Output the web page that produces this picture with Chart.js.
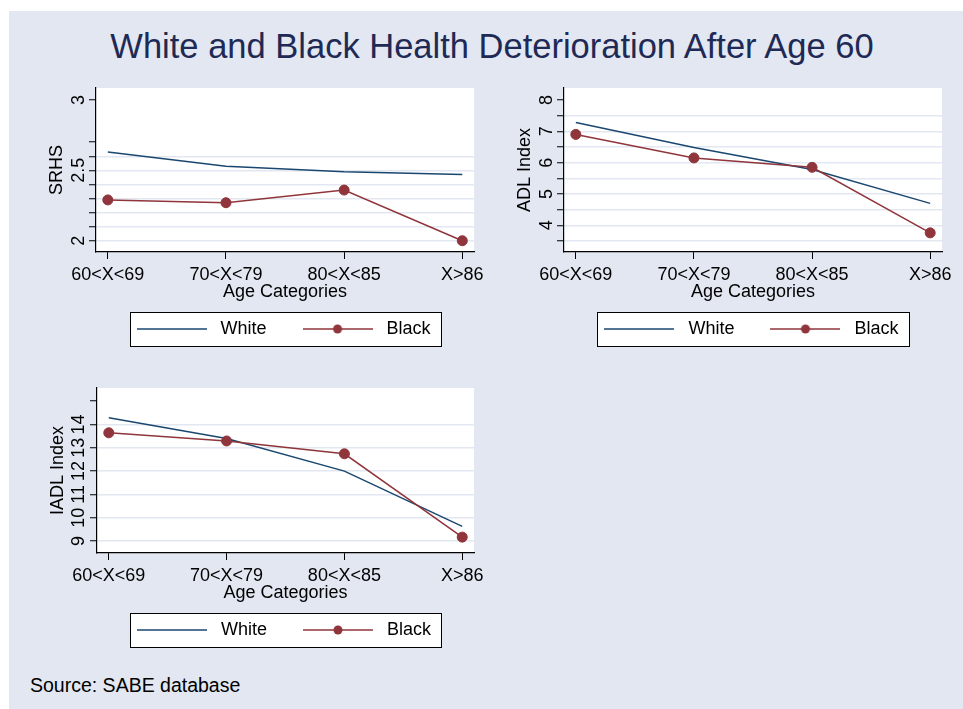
<!DOCTYPE html>
<html>
<head>
<meta charset="utf-8">
<title>White and Black Health Deterioration After Age 60</title>
<script src="https://cdn.jsdelivr.net/npm/chart.js@4.4.0/dist/chart.umd.min.js"></script>
<style>
body { margin: 0; background: #fff; width: 963px; height: 709px; position: relative; overflow: hidden; font-family: "Liberation Sans", Arial, sans-serif; }
#bg { position: absolute; left: 9px; top: 11px; width: 954px; height: 698px; background: #E2E7F1; }
#title { position: absolute; left: 9px; width: 966px; top: 29px; text-align: center; font-size: 34.5px; line-height: 1; color: #1E2A55; white-space: nowrap; }
#source { position: absolute; left: 30px; top: 676px; font-size: 19.5px; line-height: 1; color: #000; }
canvas { position: absolute; }
</style>
</head>
<body>
<div id="bg"></div>
<div id="title">White and Black Health Deterioration After Age 60</div>
<canvas id="g_srhs" width="480" height="280" style="left:9px;top:80px"></canvas>
<canvas id="g_adl" width="480" height="280" style="left:478px;top:80px"></canvas>
<canvas id="g_iadl" width="480" height="281" style="left:9px;top:380px"></canvas>
<div id="source">Source: SABE database</div>
<script>
// categories d'age (axe x)
const ageCategories = ['60<X<69', '70<X<79', '80<X<85', 'X>86'];

// valeurs
const srhsWhite = [2.63, 2.53, 2.49, 2.47];
const srhsBlack = [2.29, 2.27, 2.36, 2.00];
const adlWhite = [7.28, 6.48, 5.78, 4.70];
const adlBlack = [6.90, 6.15, 5.85, 3.76];
const iadlWhite = [14.29, 13.40, 12.00, 9.63];
const iadlBlack = [13.64, 13.29, 12.74, 9.17];

// graduations de l'axe y : toutes, celles avec un libelle, celles avec une ligne de grille
const srhsTicks = [2, 2.1, 2.2, 2.3, 2.4, 2.5, 2.6, 2.7, 3];
const srhsLabels = [2, 2.5, 3];
const srhsGrid = [2, 2.1, 2.2, 2.3, 2.4, 2.5, 2.6];
const adlTicks = [3.5, 4, 4.5, 5, 5.5, 6, 6.5, 7, 7.5, 8];
const adlLabels = [4, 5, 6, 7, 8];
const adlGrid = [3.5, 4, 4.5, 5, 5.5, 6, 6.5, 7, 7.5];
const iadlTicks = [9, 10, 11, 12, 13, 14, 15];
const iadlLabels = [9, 10, 11, 12, 13, 14];
const iadlGrid = [9, 10, 11, 12, 13, 14];

const navy = '#1A476F';
const maroon = '#90353B';
const bgColor = '#E2E7F1';

Chart.defaults.font.family = '"Liberation Sans", Arial, sans-serif';

//petits symboles pour la legende
function symbol(color, dot) {
    const c = document.createElement('canvas');
    c.width = 70;
    c.height = 12;
    const g = c.getContext('2d');
    g.strokeStyle = color;
    g.lineWidth = 1.5;
    g.beginPath();
    g.moveTo(0, 6);
    g.lineTo(70, 6);
    g.stroke();
    if (dot) {
        g.fillStyle = color;
        g.beginPath();
        g.arc(35, 6, 4.5, 0, Math.PI * 2);
        g.fill();
    }
    return c;
}
const legendSymbols = [symbol(navy, false), symbol(maroon, true)];

// fond blanc de la zone du graphique
const plotBackground = {
    id: 'plotBackground',
    beforeDraw(chart) {
        const a = chart.chartArea;
        const ctx = chart.ctx;
        ctx.save();
        ctx.fillStyle = '#fff';
        ctx.fillRect(a.left, a.top, a.right - a.left, a.bottom - a.top);
        ctx.restore();
    }
};

// cadre autour de la legende (+ petit decalage vers la gauche comme dans Stata)
const legendFrame = {
    id: 'legendFrame',
    afterLayout(chart) {
        chart.legend.left -= 4;
        chart.legend.right -= 4;
    },
    afterDraw(chart) {
        const boxes = chart.legend.legendHitBoxes;
        if (!boxes || !boxes.length) return;
        const first = boxes[0];
        const last = boxes[boxes.length - 1];
        const left = Math.round(first.left - 2) + 0.5;
        const right = Math.round(last.left + last.width + 10) + 0.5;
        const mid = first.top + 9;
        const top = Math.round(mid - 17) + 0.5;
        const bottom = Math.round(mid + 17) + 0.5;
        const ctx = chart.ctx;
        ctx.save();
        ctx.globalCompositeOperation = 'destination-over';
        ctx.fillStyle = '#fff';
        ctx.fillRect(left, top, right - left, bottom - top);
        ctx.restore();
        ctx.save();
        ctx.strokeStyle = '#000';
        ctx.lineWidth = 1;
        ctx.strokeRect(left, top, right - left, bottom - top);
        ctx.restore();
    }
};

function has(list, v) {
    return list.some(x => Math.abs(x - v) < 1e-9);
}

function panel(id, yTitle, white, black, yMin, yMax, ticks, labels, grid, tickPad, pad) {
    const context = document.getElementById(id).getContext('2d');
    let conData = {
        datasets: [{
            label: 'White',
            data: white.map((v, i) => ({ x: i, y: v })),
            borderColor: navy,
            backgroundColor: navy,
            borderWidth: 1.5,
            pointRadius: 0,
            fill: false,
            order: 1
        }, {
            label: 'Black',
            data: black.map((v, i) => ({ x: i, y: v })),
            borderColor: maroon,
            backgroundColor: maroon,
            borderWidth: 1.5,
            pointRadius: 5,
            pointBorderWidth: 1,
            pointBackgroundColor: maroon,
            pointBorderColor: maroon,
            fill: false,
            order: 0
        }]
    };
    let options = {
        animation: false,
        responsive: false,
        events: [],
        layout: { padding: pad },
        plugins: {
            tooltip: { enabled: false },
            legend: {
                position: 'bottom',
                fullSize: false,
                labels: {
                    usePointStyle: true,
                    pointStyleWidth: 80,
                    padding: 31,
                    color: '#000',
                    font: { size: 18 },
                    generateLabels(chart) {
                        const items = Chart.defaults.plugins.legend.labels.generateLabels(chart);
                        items.sort((a, b) => a.datasetIndex - b.datasetIndex);
                        items.forEach(it => {
                            it.pointStyle = legendSymbols[it.datasetIndex];
                            it.rotation = 0;
                        });
                        return items;
                    }
                }
            }
        },
        scales: {
            x: {
                type: 'linear',
                min: -0.1,
                max: 3.1,
                afterBuildTicks: s => { s.ticks = ageCategories.map((c, i) => ({ value: i })); },
                afterFit: s => { s.height = 37; },
                ticks: {
                    autoSkip: false,
                    maxRotation: 0,
                    padding: 5,
                    color: '#000',
                    font: { size: 18 },
                    callback: v => ageCategories[v]
                },
                grid: { drawOnChartArea: false, tickLength: 7, tickColor: '#000', tickWidth: 1 },
                border: { color: '#000', width: 1.2 },
                title: { display: true, text: 'Age Categories', color: '#000', font: { size: 18 }, padding: { top: 0, bottom: -14 } }
            },
            y: {
                min: yMin,
                max: yMax,
                afterBuildTicks: s => { s.ticks = ticks.map(v => ({ value: v })); },
                afterFit: s => {
                    s.width = 57;
                    // pas de marge en haut/bas pour les libelles : la zone du graphique reste fixe
                    s.paddingTop = 0;
                    s.paddingBottom = 0;
                },
                ticks: {
                    autoSkip: false,
                    minRotation: 90,
                    maxRotation: 90,
                    crossAlign: 'center',
                    padding: tickPad,
                    color: '#000',
                    font: { size: 18 },
                    callback: v => has(labels, v) ? String(v) : ''
                },
                grid: {
                    color: c => (c.tick && has(grid, c.tick.value)) ? bgColor : 'rgba(0,0,0,0)',
                    lineWidth: 1.5,
                    tickLength: 7,
                    tickColor: '#000',
                    tickWidth: 1
                },
                border: { color: '#000', width: 1.2 },
                title: { display: true, text: yTitle, color: '#000', font: { size: 18 }, padding: { top: 7.5, bottom: 0 } }
            }
        }
    };
    let config = {
        type: 'line',
        data: conData,
        options: options,
        plugins: [plotBackground, legendFrame]
    };
    return new Chart(context, config);
}

window.addEventListener('load', () => {
    panel('g_srhs', 'SRHS', srhsWhite, srhsBlack, 1.92, 3.085, srhsTicks, srhsLabels, srhsGrid, -2.5,
        { left: 30, right: 14, top: 8, bottom: 12 });
    panel('g_adl', 'ADL Index', adlWhite, adlBlack, 3.15, 8.38, adlTicks, adlLabels, adlGrid, 4.5,
        { left: 29, right: 16, top: 8, bottom: 12 });
    panel('g_iadl', 'IADL Index', iadlWhite, iadlBlack, 8.49, 15.56, iadlTicks, iadlLabels, iadlGrid, 1,
        { left: 31, right: 15, top: 8, bottom: 12 });
});
</script>
</body>
</html>
